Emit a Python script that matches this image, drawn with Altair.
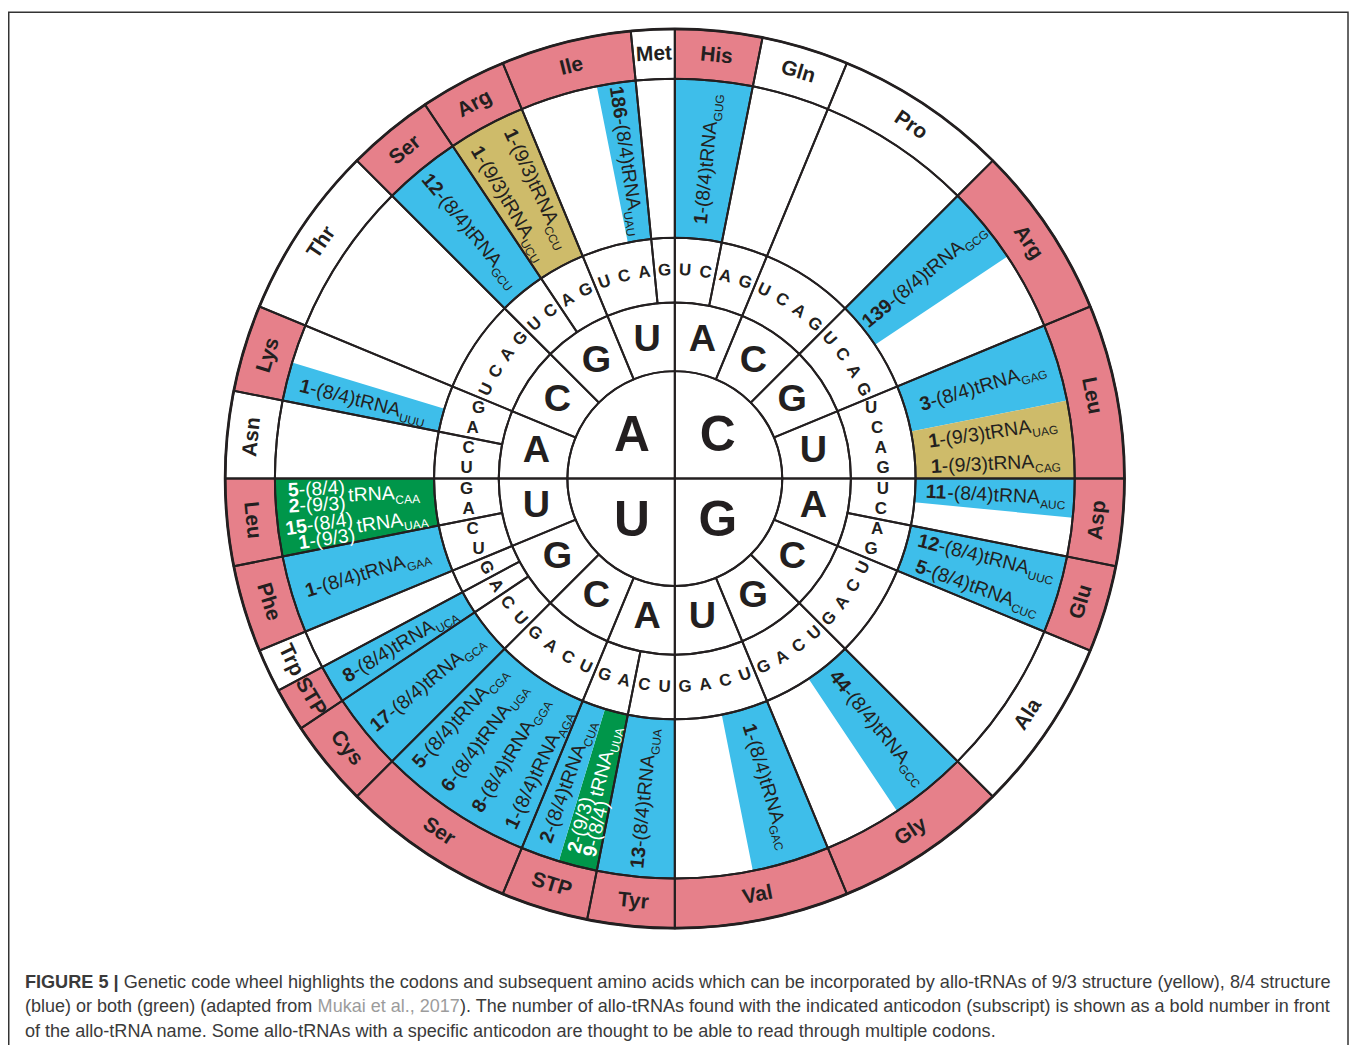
import math
import pandas as pd
import altair as alt

# ----------------------------- data -----------------------------
first_bases = ["C", "G", "U", "A"]          # quadrants, clockwise from 12 o'clock
second_bases = ["A", "C", "G", "U"]         # clockwise inside each quadrant
third_bases = ["U", "C", "A", "G"]          # clockwise inside each second-base segment

aa_names = ["His", "Gln", "Pro", "Arg", "Leu", "Asp", "Glu", "Ala", "Gly", "Val",
            "Tyr", "STP", "Ser", "Cys", "STP", "Trp", "Phe", "Leu", "Asn", "Lys",
            "Thr", "Ser", "Arg", "Ile", "Met"]
aa_codons = [2, 2, 4, 4, 4, 2, 2, 4, 4, 4, 2, 2, 4, 2, 1, 1, 2, 2, 2, 2, 4, 2, 2, 3, 1]

# highlighted codon wedges (codon index clockwise from 12 o'clock, number of codons, structure)
hl_start = [0, 8, 12, 14, 16, 18, 24, 28, 32, 34, 35, 36, 40, 42, 44, 46, 50, 56, 58, 62]
hl_len = [2, 2, 2, 2, 1, 2, 2, 2, 2, 1, 1, 4, 2, 1, 2, 2, 1, 2, 2, 1]
hl_struct = ["8/4", "8/4", "8/4", "9/3", "8/4", "8/4", "8/4", "8/4", "8/4", "both", "8/4",
             "8/4", "8/4", "8/4", "8/4", "both", "8/4", "8/4", "9/3", "8/4"]

# allo-tRNA labels
lab_start = [0, 8, 12, 14, 15, 16, 18, 19, 24, 28, 32, 34, 35, 36, 37, 38, 39, 40, 42, 44,
             46, 47, 50, 56, 58, 59, 62]
lab_span = [2, 2, 2, 1, 1, 1, 1, 1, 2, 2, 2, 1, 1, 1, 1, 1, 1, 2, 1, 2, 1, 1, 1, 2, 1, 1, 1]
lab_counts = ["1", "139", "3", "1", "1", "11", "12", "5", "44", "1", "13", "2|9", "2", "1",
              "8", "6", "5", "17", "8", "1", "15|1", "5|2", "1", "12", "1", "1", "186"]
lab_structs = ["8/4", "8/4", "8/4", "9/3", "9/3", "8/4", "8/4", "8/4", "8/4", "8/4", "8/4",
               "9/3|8/4", "8/4", "8/4", "8/4", "8/4", "8/4", "8/4", "8/4", "8/4",
               "8/4|9/3", "8/4|9/3", "8/4", "8/4", "9/3", "9/3", "8/4"]
lab_anticodon = ["GUG", "GCG", "GAG", "UAG", "CAG", "AUC", "UUC", "CUC", "GCC", "GAC", "GUA",
                 "UUA", "CUA", "AGA", "GGA", "UGA", "CGA", "GCA", "UCA", "GAA", "UAA", "CAA",
                 "UUU", "GCU", "UCU", "CCU", "UAU"]

caption_lines = [
    ["FIGURE 5 |", " Genetic code wheel highlights the codons and subsequent amino acids which can be incorporated by allo-tRNAs of 9/3 structure (yellow), 8/4 structure"],
    ["(blue) or both (green) (adapted from ", "Mukai et al., 2017", "). The number of allo-tRNAs found with the indicated anticodon (subscript) is shown as a bold number in front"],
    ["of the allo-tRNA name. Some allo-tRNAs with a specific anticodon are thought to be able to read through multiple codons."],
]
caption_styles = [["bold", "text"], ["text", "link", "text"], ["text"]]

# ----------------------------- style / layout -----------------------------
STEP = 360 / 64
R0, R1, R2, R3, R4 = 108, 177, 242, 402, 452
CX, CY = 670.3, 470.3
INK = "#231F20"
PINK = "#E6808A"
FILL = {"8/4": "#3EBEEA", "9/3": "#CEBB6A", "both": "#00964A"}
FONT = "Liberation Sans"
W_CHART, H_CHART = 1348, 1042

REG = {' ': 278, '!': 278, '"': 355, "'": 191, '(': 333, ')': 333, ',': 278, '-': 333, '.': 278,
       '/': 278, ':': 278, ';': 278, '|': 260,
       'A': 667, 'B': 667, 'C': 722, 'D': 722, 'E': 667, 'F': 611, 'G': 778, 'H': 722, 'I': 278,
       'J': 500, 'K': 667, 'L': 556, 'M': 833, 'N': 722, 'O': 778, 'P': 667, 'Q': 778, 'R': 722,
       'S': 667, 'T': 611, 'U': 722, 'V': 667, 'W': 944, 'X': 667, 'Y': 667, 'Z': 611,
       'a': 556, 'b': 556, 'c': 500, 'd': 556, 'e': 556, 'f': 278, 'g': 556, 'h': 556, 'i': 222,
       'j': 222, 'k': 500, 'l': 222, 'm': 833, 'n': 556, 'o': 556, 'p': 556, 'q': 556, 'r': 333,
       's': 500, 't': 278, 'u': 556, 'v': 500, 'w': 722, 'x': 500, 'y': 500, 'z': 500}
BOLD = {' ': 278, '(': 333, ')': 333, ',': 278, '-': 333, '.': 278, '/': 278, '|': 280,
        'A': 722, 'C': 722, 'E': 667, 'F': 611, 'G': 778, 'I': 278, 'M': 833, 'N': 722, 'R': 722,
        'S': 667, 'T': 611, 'U': 722}


def tw(s, size, bold=False):
    tbl = BOLD if bold else REG
    return sum(tbl.get(ch, REG.get(ch, 556)) for ch in s) * size / 1000.0


def polar(px, py):
    return math.hypot(px, py), math.degrees(math.atan2(px, -py)) % 360


def tangential(t):
    if 90 < t < 270:
        return (t - 180) % 360
    return t % 360


TH = alt.Scale(domain=[0, 360], range=[0, 2 * math.pi], nice=False)
RS = alt.Scale(type="linear", domain=[0, 1000], range=[0, 1000], nice=False)


def arc_layer(df, filled=True, sw=2.0):
    enc = dict(theta=alt.Theta("t0:Q", scale=TH, stack=False), theta2=alt.Theta2("t1:Q"),
               radius=alt.Radius("ro:Q", scale=RS), radius2=alt.Radius2("ri:Q"))
    if filled:
        m = alt.Chart(df).mark_arc(x=CX, y=CY, strokeWidth=0)
        enc["fill"] = alt.Fill("col:N", scale=None)
    else:
        m = alt.Chart(df).mark_arc(x=CX, y=CY, filled=False, stroke=INK, strokeWidth=sw)
    return m.encode(**enc)


def text_layer(df, size, bold=True, align="center", baseline="middle"):
    return alt.Chart(df).mark_text(
        x=CX, y=CY, font=FONT, fontSize=size, fontWeight="bold" if bold else "normal",
        align=align, baseline=baseline).encode(
        theta=alt.Theta("t:Q", scale=TH, stack=False),
        radius=alt.Radius("r:Q", scale=RS),
        angle=alt.Angle("a:Q", scale=None),
        text="txt:N",
        color=alt.Color("col:N", scale=None))


# ----- amino-acid groups -----
aa_rows = []
k = 0
for name, n in zip(aa_names, aa_codons):
    hit = any(s < k + n and k < s + l for s, l in zip(hl_start, hl_len))
    aa_rows.append(dict(name=name, k0=k, k1=k + n, col=PINK if hit else "#FFFFFF"))
    k += n

hl_df = pd.DataFrame([dict(t0=s * STEP, t1=(s + l) * STEP, ri=R2, ro=R3, col=FILL[st])
                      for s, l, st in zip(hl_start, hl_len, hl_struct)])
outer_df = pd.DataFrame([dict(t0=r["k0"] * STEP, t1=r["k1"] * STEP, ri=R3, ro=R4, col=r["col"])
                         for r in aa_rows])
outline_rows = []
for r in aa_rows:
    for ri, ro in [(R1, R2), (R2, R3), (R3, R4)]:
        outline_rows.append(dict(t0=r["k0"] * STEP, t1=r["k1"] * STEP, ri=ri, ro=ro))
for s in range(16):
    outline_rows.append(dict(t0=s * 22.5, t1=(s + 1) * 22.5, ri=R0, ro=R1))
for q in range(4):
    outline_rows.append(dict(t0=q * 90, t1=(q + 1) * 90, ri=0, ro=R0))
outline_df = pd.DataFrame(outline_rows)
rim_df = pd.DataFrame([dict(t0=0, t1=360, ri=R4, ro=R4)])

# ----- base letters -----
first_df = pd.DataFrame([dict(t=q * 90 + 45, r=61, a=0, txt=b, col=INK)
                         for q, b in enumerate(first_bases)])
second_df = pd.DataFrame([dict(t=(q * 4 + j) * 22.5 + 11.25, r=142, a=0, txt=b, col=INK)
                          for q in range(4) for j, b in enumerate(second_bases)])
third_rows = []
for s in range(16):
    for j, b in enumerate(third_bases):
        t = (s * 4 + j + 0.5) * STEP
        a = 0 if s in (3, 4, 11, 12) else tangential(t)
        third_rows.append(dict(t=t, r=209.5, a=a, txt=b, col=INK))
third_df = pd.DataFrame(third_rows)
aa_text_df = pd.DataFrame([dict(t=(r["k0"] + r["k1"]) / 2 * STEP, r=427,
                                a=tangential((r["k0"] + r["k1"]) / 2 * STEP),
                                txt=r["name"], col=INK) for r in aa_rows])

# ----- allo-tRNA labels -----
MAIN, SUBSZ, LGAP, RC, SUBDROP = 19.5, 12, 16, 323, 4.8
CAPH = 0.716 * MAIN


def struct_at(kk):
    for s, l, st in zip(hl_start, hl_len, hl_struct):
        if s <= kk < s + l:
            return st
    return None


pieces = {"b": [], "r": [], "s": []}
for i in range(len(lab_start)):
    tc = (lab_start[i] + lab_span[i] / 2) * STEP
    counts = lab_counts[i].split("|")
    structs = lab_structs[i].split("|")
    ac = lab_anticodon[i]
    col = "#FFFFFF" if struct_at(lab_start[i]) == "both" else INK
    items = []
    wcmax = max(tw(c, MAIN, True) for c in counts)
    if len(counts) == 1:
        rtxt = "-(" + structs[0] + ")tRNA"
        items += [(counts[0], "b", wcmax - tw(counts[0], MAIN, True), CAPH / 2),
                  (rtxt, "r", wcmax, CAPH / 2)]
        a_sub = wcmax + tw(rtxt, MAIN)
    else:
        wmax = 0
        for j, (c, st) in enumerate(zip(counts, structs)):
            p = CAPH / 2 + (j - (len(counts) - 1) / 2) * LGAP
            rtxt = "-(" + st + ")"
            items += [(c, "b", wcmax - tw(c, MAIN, True), p), (rtxt, "r", wcmax, p)]
            wmax = max(wmax, wcmax + tw(rtxt, MAIN))
        a_t = wmax + 3
        items.append(("tRNA", "r", a_t, CAPH / 2))
        a_sub = a_t + tw("tRNA", MAIN)
    items.append((ac, "s", a_sub + 0.5, CAPH / 2 + SUBDROP))
    W = a_sub + 0.5 + tw(ac, SUBSZ)

    th = math.radians(tc)
    ux, uy = math.sin(th), -math.cos(th)
    if 0 < tc < 180:
        alpha, sgn = tc - 90, 1
    else:
        alpha, sgn = tc - 270, -1
    dx, dy = sgn * ux, sgn * uy
    nx, ny = -math.sin(math.radians(alpha)), math.cos(math.radians(alpha))
    cx, cy = RC * ux, RC * uy
    for txt, kind, a, p in items:
        px = cx + (a - W / 2) * dx + p * nx
        py = cy + (a - W / 2) * dy + p * ny
        r, t = polar(px, py)
        pieces[kind].append(dict(t=t, r=r, a=alpha % 360, txt=txt, col=col))

lab_b = pd.DataFrame(pieces["b"])
lab_r = pd.DataFrame(pieces["r"])
lab_s = pd.DataFrame(pieces["s"])

# ----- caption -----
CAP_X, CAP_RIGHT, CAP_Y0, CAP_LH = 17, 1330, 982, 25
cap_rows = {"bold": [], "text": []}
sizes = []
for line, styles in zip(caption_lines, caption_styles):
    em = sum(tw(seg, 1.0, st == "bold") for seg, st in zip(line, styles))
    sizes.append((CAP_RIGHT - CAP_X) / em)
sizes[2] = (sizes[0] + sizes[1]) / 2
for li, (line, styles) in enumerate(zip(caption_lines, caption_styles)):
    x = CAP_X
    fs = sizes[li]
    for seg, st in zip(line, styles):
        bold = st == "bold"
        lead = len(seg) - len(seg.lstrip(" "))
        x_draw = x + tw(seg[:lead], fs, bold)
        row = dict(x=x_draw, y=CAP_Y0 + li * CAP_LH, txt=seg.strip(" "), fs=fs,
                   col="#9C9C9C" if st == "link" else "#3A3A3A")
        cap_rows["bold" if bold else "text"].append(row)
        x += tw(seg, fs, bold)


def caption_layer(df, bold):
    return alt.Chart(df).mark_text(font=FONT, fontWeight="bold" if bold else "normal",
                                   align="left", baseline="alphabetic").encode(
        x=alt.X("x:Q", scale=None, axis=None), y=alt.Y("y:Q", scale=None, axis=None),
        text="txt:N", size=alt.Size("fs:Q", scale=None),
        color=alt.Color("col:N", scale=None))


frame = alt.Chart(pd.DataFrame({"k": [0]})).mark_rect(
    filled=False, stroke="#333333", strokeWidth=1.5).encode(
    x=alt.value(0.75), x2=alt.value(1347), y=alt.value(1.5), y2=alt.value(1300))

layers = [
    frame,
    arc_layer(hl_df),
    arc_layer(outer_df),
    arc_layer(outline_df, filled=False, sw=2.0),
    arc_layer(rim_df, filled=False, sw=2.8),
    text_layer(first_df, 50),
    text_layer(second_df, 38),
    text_layer(third_df, 17),
    text_layer(aa_text_df, 21),
    text_layer(lab_b, MAIN, bold=True, align="left", baseline="alphabetic"),
    text_layer(lab_r, MAIN, bold=False, align="left", baseline="alphabetic"),
    text_layer(lab_s, SUBSZ, bold=False, align="left", baseline="alphabetic"),
    caption_layer(pd.DataFrame(cap_rows["bold"]), True),
    caption_layer(pd.DataFrame(cap_rows["text"]), False),
]

chart = alt.layer(*layers).properties(
    width=W_CHART, height=H_CHART, padding=0, autosize="none"
).configure_view(strokeWidth=0)

chart.save("out.html", embed_options={"renderer": "svg", "actions": False})
